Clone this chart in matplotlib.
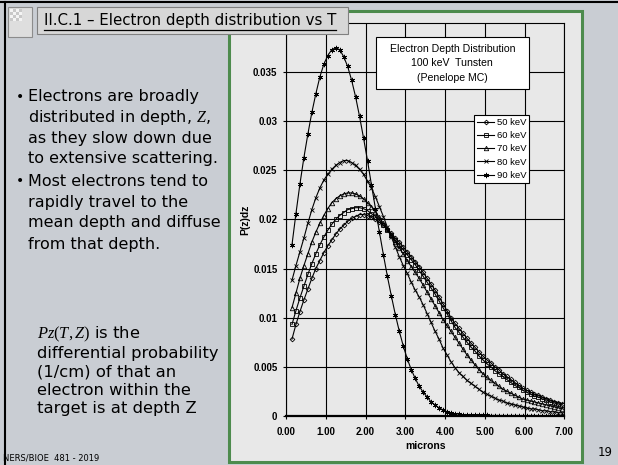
import matplotlib
matplotlib.use("Agg")
import matplotlib.pyplot as plt
from matplotlib.patches import Rectangle
from matplotlib.lines import Line2D

plt.rcParams["mathtext.fontset"] = "custom"
plt.rcParams["mathtext.it"] = "Liberation Serif:italic"
plt.rcParams["mathtext.rm"] = "Liberation Serif"

# ---- data ----
depth = [0.15, 0.25, 0.35, 0.45, 0.55, 0.65, 0.75, 0.85, 0.95, 1.05,
         1.15, 1.25, 1.35, 1.45, 1.55, 1.65, 1.75, 1.85, 1.95, 2.05,
         2.15, 2.25, 2.35, 2.45, 2.55, 2.65, 2.75, 2.85, 2.95, 3.05,
         3.15, 3.25, 3.35, 3.45, 3.55, 3.65, 3.75, 3.85, 3.95, 4.05,
         4.15, 4.25, 4.35, 4.45, 4.55, 4.65, 4.75, 4.85, 4.95, 5.05,
         5.15, 5.25, 5.35, 5.45, 5.55, 5.65, 5.75, 5.85, 5.95, 6.05,
         6.15, 6.25, 6.35, 6.45, 6.55, 6.65, 6.75, 6.85, 6.95]

p50 = [0.0078, 0.0093, 0.0106, 0.0118, 0.0129, 0.0140, 0.0150, 0.0158, 0.0166, 0.0173,
       0.0179, 0.0185, 0.0190, 0.0194, 0.0198, 0.0201, 0.0203, 0.0205, 0.0205, 0.0204,
       0.0202, 0.0200, 0.0197, 0.0194, 0.0190, 0.0186, 0.0181, 0.0177, 0.0172, 0.0167,
       0.0162, 0.0157, 0.0152, 0.0146, 0.0140, 0.0134, 0.0128, 0.0121, 0.0114, 0.0107,
       0.0100, 0.0094, 0.0089, 0.0084, 0.0079, 0.0074, 0.0070, 0.0065, 0.0061, 0.0057,
       0.0054, 0.0050, 0.0047, 0.0043, 0.0040, 0.0037, 0.0034, 0.0031, 0.0028, 0.0026,
       0.0024, 0.0022, 0.0021, 0.0019, 0.0017, 0.0016, 0.0014, 0.0013, 0.0012]

p60 = [0.0093, 0.0107, 0.0120, 0.0132, 0.0144, 0.0155, 0.0165, 0.0174, 0.0182, 0.0189,
       0.0195, 0.0200, 0.0204, 0.0207, 0.0210, 0.0211, 0.0212, 0.0212, 0.0211, 0.0209,
       0.0206, 0.0203, 0.0199, 0.0194, 0.0189, 0.0184, 0.0179, 0.0174, 0.0169, 0.0164,
       0.0159, 0.0154, 0.0148, 0.0142, 0.0136, 0.0130, 0.0124, 0.0117, 0.0110, 0.0104,
       0.0097, 0.0090, 0.0085, 0.0080, 0.0075, 0.0070, 0.0066, 0.0061, 0.0057, 0.0053,
       0.0050, 0.0046, 0.0043, 0.0040, 0.0037, 0.0034, 0.0031, 0.0029, 0.0026, 0.0024,
       0.0022, 0.0020, 0.0019, 0.0017, 0.0016, 0.0014, 0.0013, 0.0012, 0.0011]

p70 = [0.0110, 0.0125, 0.0140, 0.0153, 0.0165, 0.0177, 0.0187, 0.0196, 0.0204, 0.0211,
       0.0217, 0.0221, 0.0224, 0.0226, 0.0227, 0.0227, 0.0226, 0.0224, 0.0221, 0.0217,
       0.0213, 0.0208, 0.0202, 0.0196, 0.0190, 0.0184, 0.0177, 0.0171, 0.0165, 0.0158,
       0.0152, 0.0146, 0.0140, 0.0133, 0.0126, 0.0119, 0.0112, 0.0105, 0.0098, 0.0092,
       0.0086, 0.0080, 0.0074, 0.0068, 0.0062, 0.0057, 0.0052, 0.0047, 0.0043, 0.0039,
       0.0036, 0.0033, 0.0030, 0.0027, 0.0025, 0.0023, 0.0021, 0.0019, 0.0017, 0.0016,
       0.0015, 0.0014, 0.0013, 0.0012, 0.0011, 0.0010, 0.0009, 0.0008, 0.0007]

p80 = [0.0138, 0.0153, 0.0167, 0.0181, 0.0196, 0.0210, 0.0222, 0.0232, 0.0240, 0.0246,
       0.0251, 0.0255, 0.0258, 0.0260, 0.0260, 0.0258, 0.0255, 0.0251, 0.0246, 0.0239,
       0.0232, 0.0223, 0.0213, 0.0203, 0.0192, 0.0182, 0.0172, 0.0162, 0.0153, 0.0145,
       0.0136, 0.0128, 0.0121, 0.0113, 0.0104, 0.0095, 0.0086, 0.0078, 0.0069, 0.0062,
       0.0055, 0.0049, 0.0044, 0.0040, 0.0036, 0.0033, 0.0030, 0.0027, 0.0024, 0.0022,
       0.0020, 0.0018, 0.0016, 0.0015, 0.0013, 0.0012, 0.0011, 0.0010, 0.0009, 0.0008,
       0.0007, 0.0007, 0.0006, 0.0005, 0.0005, 0.0004, 0.0004, 0.0003, 0.0003]

p90 = [0.0174, 0.0206, 0.0236, 0.0263, 0.0287, 0.0309, 0.0328, 0.0345, 0.0358, 0.0367,
       0.0373, 0.0375, 0.0373, 0.0366, 0.0356, 0.0342, 0.0325, 0.0305, 0.0283, 0.0260,
       0.0235, 0.0211, 0.0187, 0.0164, 0.0142, 0.0122, 0.0103, 0.0086, 0.0071, 0.0058,
       0.0047, 0.0038, 0.0030, 0.0024, 0.0019, 0.0014, 0.0011, 0.0008, 0.0006, 0.0004,
       0.0003, 0.0002, 0.00015, 0.0001, 0.00008, 0.00006, 0.00005, 0.00004, 0.00003, 0.00003,
       0.00002, 0.00002, 0.00002, 0.00001, 0.00001, 0.00001, 0.00001, 0.00001, 0.00001, 0.00001,
       0.00001, 0.00001, 0.00001, 0.00001, 0.00001, 0.00001, 0.00001, 0.00001, 0.00001]

series_labels = ["50 keV", "60 keV", "70 keV", "80 keV", "90 keV"]
x_ticks = [0, 1, 2, 3, 4, 5, 6, 7]
y_ticks = [0, 0.005, 0.01, 0.015, 0.02, 0.025, 0.03, 0.035]
y_tick_labels = ["0", "0.005", "0.01", "0.015", "0.02", "0.025", "0.03", "0.035"]

title = "II.C.1 \u2013 Electron depth distribution vs T"
bullet1 = ["Electrons are broadly", "distributed in depth, $Z$,",
           "as they slow down due", "to extensive scattering."]
bullet2 = ["Most electrons tend to", "rapidly travel to the",
           "mean depth and diffuse", "from that depth."]
note = [r"$\mathit{Pz(T,Z)}$ is the", "differential probability",
        "(1/cm) of that an", "electron within the", "target is at depth Z"]
box_lines = ["Electron Depth Distribution", "100 keV  Tunsten", "(Penelope MC)"]

# ---- styling ----
W, H = 618, 465
SLIDE_BG = "#c9cdd3"
CHART_BG = "#e8e8e8"
GREEN = "#4d8b4d"
ARIAL = "Liberation Sans"
BODY = "DejaVu Sans"
markers = ["D", "s", "^", "x", (6, 2, 0)]
msizes = [2.4, 3.0, 3.2, 3.2, 3.8]


def fx(px):
    return px / W


def fy(py):
    return 1 - py / H


fig = plt.figure(figsize=(W / 100, H / 100), dpi=100, facecolor=SLIDE_BG)

# slide decorations
fig.add_artist(Line2D([0, 1], [fy(2.5), fy(2.5)], color="black", lw=1.5))
fig.add_artist(Line2D([fx(5), fx(5)], [fy(2.5), 0], color="black", lw=1.5))

# chart frame
fig.add_artist(Rectangle((fx(229), fy(462)), 353 / W, 451 / H, transform=fig.transFigure,
                         fc=CHART_BG, ec=GREEN, lw=2.2, zorder=-1))

ax = fig.add_axes([fx(286), fy(415.7), (564.3 - 286) / W, (415.7 - 23.2) / H])
ax.set_facecolor(CHART_BG)
all_series = [p50, p60, p70, p80, p90]
for vals, lab, mk, ms in zip(all_series, series_labels, markers, msizes):
    ax.plot(depth, vals, color="black", lw=0.8, marker=mk, ms=ms, mfc="none",
            mec="black", mew=0.6, label=lab)

ax.set_xlim(0, 7)
ax.set_ylim(0, 0.04)
ax.set_xticks(x_ticks)
ax.set_xticklabels([f"{t:.2f}" for t in x_ticks])
ax.set_yticks(y_ticks)
ax.set_yticklabels(y_tick_labels)
for lab in ax.get_xticklabels() + ax.get_yticklabels():
    lab.set_fontfamily(ARIAL)
    lab.set_fontweight("bold")
    lab.set_fontsize(7)
ax.tick_params(axis="both", direction="out", length=2.2, width=0.8, colors="black")
ax.tick_params(axis="x", pad=6)
ax.tick_params(axis="y", pad=4)
ax.grid(True, color="black", lw=0.8)
ax.set_axisbelow(True)
for s in ax.spines.values():
    s.set_linewidth(0.8)
ax.spines["bottom"].set_linewidth(1.6)
ax.set_xlabel("microns", fontfamily=ARIAL, fontweight="bold", fontsize=7.5, labelpad=3)
ax.set_ylabel("P(z)dz", fontfamily=ARIAL, fontweight="bold", fontsize=7.5, labelpad=2)

leg = ax.legend(loc="upper right", bbox_to_anchor=(fx(529), fy(115)),
                bbox_transform=fig.transFigure, fancybox=False, framealpha=1,
                edgecolor="black", borderaxespad=0, borderpad=0.3,
                handlelength=1.8, handletextpad=0.25, labelspacing=0.45,
                prop={"family": ARIAL, "size": 6.8})
leg.get_frame().set_linewidth(0.8)

# chart info box
fig.add_artist(Rectangle((fx(375.7), fy(89.3)), (529 - 375.7) / W, (89.3 - 36.7) / H,
                         transform=fig.transFigure, fc="white", ec="black", lw=0.8, zorder=5))
for txt, yy in zip(box_lines, [49.5, 63.5, 78]):
    fig.text(fx(452.3), fy(yy), txt, ha="center", va="center", fontfamily=ARIAL,
             fontsize=7.6, zorder=6)

# slide title box and icon
fig.add_artist(Rectangle((fx(37), fy(34)), 311 / W, 27 / H, transform=fig.transFigure,
                         fc="#d7d7d7", ec="#808080", lw=0.8, zorder=6))
fig.add_artist(Rectangle((fx(8), fy(37)), 24 / W, 30 / H, transform=fig.transFigure,
                         fc="#dedede", ec="#8c8c8c", lw=0.8, zorder=6))
for i in range(4):
    for j in range(4):
        shade = "#f4f4f4" if (i + j) % 2 == 0 else "#c8c8c8"
        fig.add_artist(Rectangle((fx(10 + 3 * i), fy(12 + 3 * j)), 2.5 / W, 2.5 / H,
                                 transform=fig.transFigure, fc=shade, ec="none", zorder=7))
t_title = fig.text(fx(44), fy(20.5), title, ha="left", va="center", fontfamily=BODY,
                   fontsize=10.8, zorder=7)

# slide body text
fig.text(fx(16), fy(97), "\u2022", fontfamily=BODY, fontsize=10, va="center")
for txt, yy in zip(bullet1, [97, 117.5, 138, 158.5]):
    fig.text(fx(28), fy(yy), txt, fontfamily=BODY, fontsize=11.5, va="center")
fig.text(fx(16), fy(181), "\u2022", fontfamily=BODY, fontsize=10, va="center")
for txt, yy in zip(bullet2, [181, 202, 223, 244]):
    fig.text(fx(28), fy(yy), txt, fontfamily=BODY, fontsize=11.5, va="center")
for txt, yy in zip(note, [334, 353, 371.5, 390, 408.5]):
    fig.text(fx(37), fy(yy), txt, fontfamily=BODY, fontsize=11.8, va="center")
fig.text(fx(3), fy(458), "NERS/BIOE  481 - 2019", fontfamily=BODY, fontsize=6, va="center")
fig.text(fx(598), fy(452), "19", fontfamily=BODY, fontsize=8.5, va="center")

# underline the title
fig.canvas.draw()
bb = t_title.get_window_extent()
fig.add_artist(Line2D([bb.x0 / W, bb.x1 / W], [fy(30.5), fy(30.5)], color="black", lw=0.9, zorder=8))

fig.savefig("out.png", dpi=100, facecolor=SLIDE_BG)
